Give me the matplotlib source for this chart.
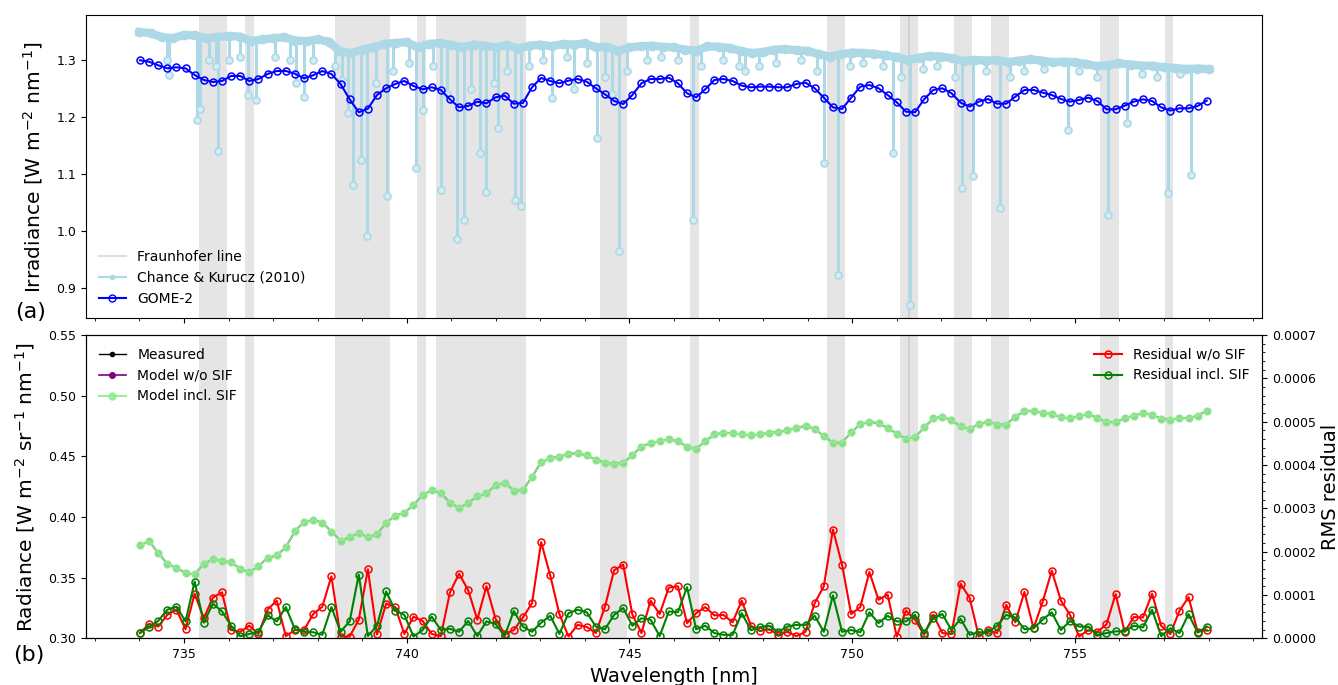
import numpy as np
import matplotlib
matplotlib.use("Agg")
import matplotlib.pyplot as plt
from matplotlib.lines import Line2D
from matplotlib.ticker import MultipleLocator, AutoMinorLocator, FormatStrFormatter

# ---------------- data ----------------
# GOME-2 spectral grid (nm)
wl_first, wl_last, n_pix = 734.01, 757.96, 118

gome2_irradiance = [
    1.2995, 1.297, 1.2907, 1.2854, 1.2872, 1.2854, 1.2737, 1.265, 1.2615, 1.2632,
    1.272, 1.272, 1.2632, 1.2667, 1.2755, 1.2807, 1.2807, 1.276, 1.2679, 1.2732,
    1.2807, 1.2755, 1.258, 1.2311, 1.2084, 1.2148, 1.2387, 1.2504, 1.258, 1.2632,
    1.2545, 1.2487, 1.2522, 1.2475, 1.2311, 1.2171, 1.2194, 1.227, 1.2241, 1.2346,
    1.2376, 1.2235, 1.2247, 1.2522, 1.2685, 1.2632, 1.2592, 1.2638, 1.2667,
    1.262, 1.2504, 1.2399, 1.2282, 1.2229, 1.2387, 1.2592, 1.2667, 1.2667, 1.269,
    1.2592, 1.2417, 1.2346, 1.2487, 1.265, 1.2667, 1.2632, 1.2551, 1.2522, 1.2533,
    1.2533, 1.2522, 1.2522, 1.258, 1.2603, 1.2504, 1.234, 1.2171, 1.2142, 1.234,
    1.2533, 1.2562, 1.2504, 1.2387, 1.2259, 1.2095, 1.2084, 1.2311, 1.2475, 1.2504,
    1.2417, 1.2253, 1.2183, 1.227, 1.2317, 1.2235, 1.2235, 1.2358,
    1.2475, 1.2475, 1.2428, 1.2387, 1.2317, 1.227, 1.23, 1.234, 1.2282, 1.2136,
    1.2136, 1.22, 1.227, 1.2311, 1.2282, 1.2171, 1.2113, 1.2154, 1.2154, 1.2194, 1.2288,
]

radiance_measured = [
    0.3765, 0.380, 0.3705, 0.3614, 0.3578, 0.354, 0.3526, 0.3614, 0.3652, 0.3636,
    0.3628, 0.3573, 0.3543, 0.3595, 0.3663, 0.3683, 0.3751, 0.3882, 0.396, 0.3976,
    0.3954, 0.388, 0.3806, 0.3833, 0.3869, 0.3833, 0.3858, 0.3951, 0.4011, 0.4034,
    0.41, 0.4179, 0.4223, 0.4198, 0.4118, 0.4075, 0.4113, 0.4173, 0.4195, 0.4261,
    0.4283, 0.4217, 0.422, 0.4332, 0.445, 0.4483, 0.4497, 0.4519, 0.4527,
    0.4507, 0.4472, 0.4447, 0.4436, 0.4447, 0.451, 0.4581, 0.4609, 0.4625, 0.4639,
    0.4625, 0.4581, 0.4562, 0.4625, 0.468, 0.4694, 0.469, 0.468, 0.4672, 0.468,
    0.4694, 0.4699, 0.4713, 0.4735, 0.4752, 0.4727, 0.4666, 0.4612, 0.4614, 0.4697,
    0.4765, 0.4787, 0.4771, 0.4735, 0.4686, 0.4645, 0.4658, 0.4738, 0.4812, 0.4826,
    0.4798, 0.4746, 0.4727, 0.4765, 0.4787, 0.4762, 0.4762, 0.4828,
    0.4872, 0.4872, 0.4861, 0.485, 0.4822, 0.4814, 0.4831, 0.485, 0.4814, 0.4781,
    0.4781, 0.4814, 0.4836, 0.4855, 0.4842, 0.4809, 0.4803, 0.4814, 0.4814, 0.4836, 0.4877,
]
model_wo_sif = list(radiance_measured)
model_incl_sif = list(radiance_measured)

# RMS residuals, in units of 1e-4
res_unit = 1e-4
residual_wo_sif = [
    0.12, 0.33, 0.27, 0.54, 0.66, 0.21, 1.03, 0.46, 0.94, 1.06,
    0.19, 0.15, 0.29, 0.10, 0.66, 0.87, 0.05, 0.19, 0.19, 0.56,
    0.73, 1.43, 0.04, 0.04, 0.43, 1.59, 0.09, 0.80, 0.72, 0.10,
    0.50, 0.40, 0.10, 0.05, 1.06, 1.49, 1.11, 0.43, 1.20, 0.45,
    0.10, 0.19, 0.48, 0.81, 2.22, 1.45, 0.56, 0.04, 0.31,
    0.26, 0.12, 0.73, 1.57, 1.70, 0.55, 0.12, 0.87, 0.56, 1.17,
    1.20, 0.35, 0.58, 0.72, 0.53, 0.54, 0.37, 0.87, 0.29, 0.17,
    0.21, 0.08, 0.15, 0.05, 0.15, 0.81, 1.20, 2.51, 1.70, 0.56,
    0.72, 1.53, 0.89, 1.01, 0.04, 0.64, 0.43, 0.08, 0.54, 0.12,
    0.10, 1.26, 0.93, 0.04, 0.19, 0.12, 0.77, 0.37,
    1.07, 0.23, 0.84, 1.56, 0.87, 0.54, 0.04, 0.19, 0.15, 0.32,
    1.02, 0.15, 0.49, 0.48, 1.03, 0.29, 0.10, 0.63, 0.95, 0.15, 0.19,
]
residual_incl_sif = [
    0.12, 0.26, 0.40, 0.66, 0.73, 0.39, 1.31, 0.36, 0.80, 0.62,
    0.29, 0.05, 0.10, 0.15, 0.53, 0.39, 0.72, 0.21, 0.15, 0.14,
    0.08, 0.72, 0.15, 0.39, 1.47, 0.05, 0.29, 1.08, 0.64, 0.54,
    0.04, 0.19, 0.50, 0.19, 0.22, 0.15, 0.40, 0.05, 0.39, 0.33,
    0.05, 0.63, 0.27, 0.15, 0.36, 0.52, 0.10, 0.58, 0.66,
    0.60, 0.27, 0.21, 0.54, 0.70, 0.29, 0.46, 0.43, 0.05, 0.62,
    0.60, 1.18, 0.21, 0.29, 0.12, 0.08, 0.08, 0.58, 0.19, 0.26,
    0.29, 0.15, 0.27, 0.31, 0.31, 0.52, 0.15, 0.99, 0.15, 0.19,
    0.14, 0.60, 0.35, 0.52, 0.39, 0.39, 0.54, 0.12, 0.46, 0.56,
    0.19, 0.45, 0.08, 0.14, 0.14, 0.29, 0.54, 0.48,
    0.21, 0.23, 0.43, 0.60, 0.19, 0.40, 0.27, 0.27, 0.08, 0.12,
    0.16, 0.16, 0.29, 0.25, 0.66, 0.05, 0.23, 0.12, 0.56, 0.13, 0.27,
]

# Chance & Kurucz (2010) high-resolution solar spectrum:
# continuum (every 0.25 nm from 734 to 758 nm) and absorption lines
ck_cont_irr = [
    1.349, 1.347, 1.340, 1.338,
    1.344, 1.343, 1.338, 1.340,
    1.342, 1.341, 1.333, 1.336,
    1.338, 1.340, 1.334, 1.333,
    1.336, 1.332, 1.315, 1.312,
    1.318, 1.322, 1.328, 1.330,
    1.331, 1.322, 1.328, 1.330,
    1.326, 1.322, 1.327, 1.325,
    1.322, 1.326, 1.320, 1.325,
    1.327, 1.324, 1.328, 1.327,
    1.329, 1.322, 1.323, 1.316,
    1.322, 1.324, 1.325, 1.323,
    1.322, 1.318, 1.316, 1.324,
    1.323, 1.321, 1.316, 1.312,
    1.314, 1.318, 1.319, 1.317,
    1.316, 1.310, 1.306, 1.310,
    1.313, 1.312, 1.311, 1.308,
    1.305, 1.300, 1.304, 1.307,
    1.306, 1.303, 1.298, 1.300,
    1.299, 1.300, 1.296, 1.299,
    1.301, 1.299, 1.296, 1.297,
    1.296, 1.293, 1.289, 1.291,
    1.294, 1.292, 1.290, 1.290,
    1.287, 1.286, 1.284, 1.285,
    1.284,
]
ck_first, ck_last = 734.0, 758.0

# (wavelength, continuum level, line-core irradiance)
ck_lines = [
    (734.62, 1.339, 1.300), (734.67, 1.339, 1.274), (735.30, 1.343, 1.195),
    (735.35, 1.342, 1.215), (735.55, 1.338, 1.300), (735.72, 1.340, 1.290),
    (735.77, 1.340, 1.141), (736.00, 1.342, 1.300), (736.25, 1.341, 1.305),
    (736.44, 1.335, 1.239), (736.61, 1.334, 1.230), (737.05, 1.338, 1.305),
    (737.38, 1.337, 1.300), (737.51, 1.334, 1.259), (737.70, 1.333, 1.236),
    (737.90, 1.335, 1.300), (738.40, 1.322, 1.290), (738.55, 1.314, 1.265),
    (738.69, 1.313, 1.207), (738.80, 1.313, 1.081), (738.97, 1.317, 1.125),
    (739.11, 1.320, 0.991), (739.30, 1.323, 1.260), (739.55, 1.328, 1.061),
    (739.70, 1.330, 1.280), (740.05, 1.329, 1.295), (740.20, 1.324, 1.110),
    (740.37, 1.325, 1.212), (740.60, 1.329, 1.290), (740.77, 1.330, 1.072),
    (740.90, 1.328, 1.240), (741.12, 1.324, 0.986), (741.29, 1.323, 1.020),
    (741.45, 1.326, 1.250), (741.64, 1.326, 1.137), (741.79, 1.324, 1.068),
    (741.95, 1.323, 1.260), (742.05, 1.323, 1.180), (742.25, 1.326, 1.280),
    (742.43, 1.322, 1.055), (742.56, 1.321, 1.044), (742.75, 1.325, 1.290),
    (743.05, 1.327, 1.300), (743.27, 1.324, 1.233), (743.60, 1.328, 1.305),
    (743.76, 1.327, 1.250), (744.05, 1.328, 1.295), (744.28, 1.322, 1.163),
    (744.45, 1.323, 1.270), (744.60, 1.320, 1.240), (744.76, 1.316, 0.966),
    (744.95, 1.321, 1.280), (745.40, 1.325, 1.300), (745.70, 1.324, 1.305),
    (746.10, 1.321, 1.300), (746.43, 1.317, 1.020), (746.60, 1.318, 1.290),
    (747.10, 1.322, 1.300), (747.45, 1.317, 1.290), (747.59, 1.315, 1.280),
    (747.90, 1.313, 1.290), (748.30, 1.318, 1.295), (748.85, 1.317, 1.300),
    (749.20, 1.311, 1.280), (749.37, 1.308, 1.120), (749.69, 1.309, 0.924),
    (749.95, 1.312, 1.290), (750.25, 1.312, 1.295), (750.70, 1.309, 1.290),
    (750.92, 1.306, 1.137), (751.10, 1.304, 1.270), (751.30, 1.301, 0.871),
    (751.60, 1.305, 1.285), (751.90, 1.307, 1.290), (752.30, 1.302, 1.270),
    (752.47, 1.299, 1.075), (752.72, 1.300, 1.096), (753.00, 1.299, 1.280),
    (753.32, 1.299, 1.040), (753.55, 1.297, 1.270), (753.85, 1.300, 1.280),
    (754.30, 1.298, 1.285), (754.84, 1.297, 1.177), (755.10, 1.295, 1.280),
    (755.50, 1.289, 1.270), (755.75, 1.291, 1.029), (756.16, 1.293, 1.189),
    (756.50, 1.290, 1.275), (756.85, 1.290, 1.270), (757.09, 1.287, 1.067),
    (757.35, 1.285, 1.275), (757.60, 1.285, 1.099),
]

# Fraunhofer line windows (nm)
fraunhofer_windows = [
    (735.34, 735.96), (736.36, 736.57), (738.40, 739.63), (740.22, 740.44),
    (740.65, 742.68), (744.33, 744.94), (746.36, 746.56), (749.43, 749.84),
    (751.07, 751.29), (751.26, 751.47), (752.29, 752.70), (753.12, 753.52),
    (755.57, 755.98), (757.02, 757.21),
]

# ---------------- figure ----------------
wl = np.linspace(wl_first, wl_last, n_pix)
ck_wl = np.linspace(ck_first, ck_last, len(ck_cont_irr))
line_wl = [t[0] for t in ck_lines]
line_top = [t[1] for t in ck_lines]
line_min = [t[2] for t in ck_lines]

fig = plt.figure(figsize=(13.38, 6.85), dpi=100)
ax1 = fig.add_axes([0.0643, 0.5353, 0.8789, 0.4428])
ax2 = fig.add_axes([0.0643, 0.0682, 0.8789, 0.4427], sharex=ax1)

span_kw = dict(color="grey", alpha=0.2, lw=0, zorder=0)
for lo, hi in fraunhofer_windows:
    ax1.axvspan(lo, hi, **span_kw)
    ax2.axvspan(lo, hi, **span_kw)

# top panel
ax1.vlines(line_wl, line_min, line_top, color="lightblue", lw=2.2, zorder=2)
ax1.plot(line_wl, line_min, "o", color="lightblue", ms=5, mfc="#d6ecf3", mew=1.2, zorder=2)
ax1.plot(ck_wl, ck_cont_irr, "o-", color="lightblue", lw=6, ms=6, zorder=2)
ax1.plot(wl, gome2_irradiance, "o-", color="blue", lw=1.5, ms=5,
         mfc="none", mew=1.1, zorder=3)
fraun_handle = Line2D([], [], color="#dedede", lw=1.5, label="Fraunhofer line")
leg_ck = Line2D([], [], color="lightblue", lw=1.5, marker="o", ms=3, label="Chance & Kurucz (2010)")
leg_g = Line2D([], [], color="blue", lw=1.5, marker="o", ms=5, mfc="none", label="GOME-2")
ax1.legend(handles=[fraun_handle, leg_ck, leg_g], loc="lower left", frameon=False,
           fontsize=10)
ax1.set_ylim(0.8475, 1.3788)
ax1.set_yticks([0.9, 1.0, 1.1, 1.2, 1.3])
ax1.set_ylabel("Irradiance [W m$^{-2}$ nm$^{-1}$]", fontsize=14.5)
ax1.yaxis.set_label_coords(-0.035, 0.5)
ax1.tick_params(axis="x", labelbottom=False)

# bottom panel
ax2.plot(wl, radiance_measured, "o-", color="black", lw=1.0, ms=3, zorder=3, label="Measured")
ax2.plot(wl, model_wo_sif, "o-", color="purple", lw=1.2, ms=4, zorder=3, label="Model w/o SIF")
ax2.plot(wl, model_incl_sif, "o-", color="lightgreen", lw=1.5, ms=5, alpha=0.9, zorder=3,
         label="Model incl. SIF")
ax2.set_ylim(0.30, 0.55)
ax2.set_yticks([0.30, 0.35, 0.40, 0.45, 0.50, 0.55])
ax2.yaxis.set_major_formatter(FormatStrFormatter("%.2f"))
ax2.set_ylabel("Radiance [W m$^{-2}$ sr$^{-1}$ nm$^{-1}$]", fontsize=14.5)
ax2.yaxis.set_label_coords(-0.042, 0.5)
ax2.legend(loc="upper left", frameon=False, fontsize=10)

ax3 = ax2.twinx()
ax3.set_position(ax2.get_position())
r_wo = np.array(residual_wo_sif) * res_unit
r_in = np.array(residual_incl_sif) * res_unit
ax3.plot(wl, r_wo, "o-", color="red", lw=1.5, ms=5, mfc="none", mew=1.1, label="Residual w/o SIF")
ax3.plot(wl, r_in, "o-", color="green", lw=1.5, ms=5, mfc="none", mew=1.1, label="Residual incl. SIF")
ax3.set_ylim(0, 0.0007)
ax3.yaxis.set_major_locator(MultipleLocator(0.0001))
ax3.yaxis.set_minor_locator(AutoMinorLocator(5))
ax3.yaxis.set_major_formatter(FormatStrFormatter("%.4f"))
ax3.set_ylabel("RMS residual", fontsize=14)
ax3.yaxis.set_label_coords(1.0505, 0.5)
ax3.legend(loc="upper right", frameon=False, fontsize=10)

ax2.set_xlim(732.8, 759.2)
ax2.xaxis.set_major_locator(MultipleLocator(5))
ax2.xaxis.set_minor_locator(MultipleLocator(1))
ax2.set_xlabel("Wavelength [nm]", fontsize=14)
ax2.xaxis.set_label_coords(0.5, -0.095)

for ax in (ax1, ax2, ax3):
    ax.tick_params(labelsize=9)

fig.text(15 / 1338, 1 - 312 / 685, "(a)", fontsize=16, ha="left", va="center")
fig.text(13 / 1338, 1 - 655 / 685, "(b)", fontsize=16, ha="left", va="center")

fig.savefig("out.png", dpi=100)
